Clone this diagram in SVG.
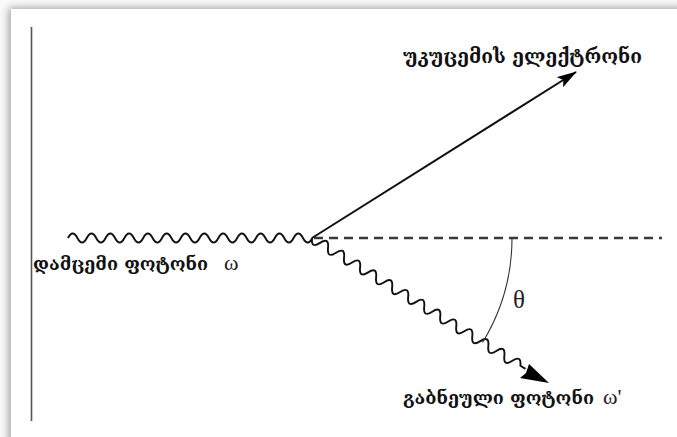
<svg xmlns="http://www.w3.org/2000/svg" width="677" height="437" viewBox="0 0 677 437">
  <defs>
    <filter id="sh" x="-10%" y="-10%" width="120%" height="120%">
      <feGaussianBlur stdDeviation="4"/>
    </filter>
    <marker id="ah" viewBox="0 0 20 12" refX="19" refY="6" markerWidth="20" markerHeight="12" markerUnits="userSpaceOnUse" orient="auto">
      <path d="M0,0 L20,6 L0,12 L4,6 Z" fill="#000"/>
    </marker>
  </defs>
  <style>
    .geo { font-family: "DejaVu Serif", "DejaVu Sans", serif; font-weight: bold; font-size: 18px; fill: #111; }
    .sym { font-family: "Liberation Serif", "DejaVu Serif", serif; font-weight: normal; font-size: 22px; fill: #222; }
    .wave { fill: none; stroke: #111; stroke-width: 1.9; stroke-linejoin: round; }
  </style>
  <rect x="0" y="0" width="677" height="437" fill="#fafafa"/>
  <rect x="9" y="8" width="690" height="460" fill="#9a9a9a" filter="url(#sh)"/>
  <rect x="11" y="9" width="690" height="460" fill="#ffffff"/>

  <g id="axis">
    <line x1="31.5" y1="27" x2="31.5" y2="421" stroke="#555" stroke-width="1.6"/>
  </g>

  <g id="connectors">
    <path id="incoming" class="wave" d="M68,238 q4.7,-9 9.4,0 t9.4,0 t9.4,0 t9.4,0 t9.4,0 t9.4,0 t9.4,0 t9.4,0 t9.4,0 t9.4,0 t9.4,0 t9.4,0 t9.4,0 t9.4,0 t9.4,0 t9.4,0 t9.4,0 t9.4,0 t9.4,0 t9.4,0 t9.4,0 t9.4,0 t9.4,0 t9.4,0 t9.4,0 t9.4,0"/>
    <line id="dashed" x1="314" y1="238" x2="662" y2="238" stroke="#3a3a3a" stroke-width="2.5" stroke-dasharray="9,6"/>
    <line id="electron" x1="312" y1="238" x2="576" y2="72" stroke="#111" stroke-width="2" marker-end="url(#ah)"/>
    <g id="scattered" transform="translate(312,238) rotate(31.5)">
      <path class="wave" d="M0,0 q4.7,10 9.4,0 t9.4,0 t9.4,0 t9.4,0 t9.4,0 t9.4,0 t9.4,0 t9.4,0 t9.4,0 t9.4,0 t9.4,0 t9.4,0 t9.4,0 t9.4,0 t9.4,0 t9.4,0 t9.4,0 t9.4,0 t9.4,0 t9.4,0 t9.4,0 t9.4,0 t9.4,0 t9.4,0 t9.4,0 t9.4,0 l6,0"/>
    </g>
    <path d="M549,383 L520,378 L526,373 L529,364 Z" fill="#000"/>
    <path id="angle" d="M512,238 A200,200 0 0 1 482.5,342.5" fill="none" stroke="#333" stroke-width="1.1"/>
  </g>

  <g id="label-electron">
    <text class="geo" x="403" y="63" style="font-size:19px" textLength="239" lengthAdjust="spacingAndGlyphs">უკუცემის ელექტრონი</text>
  </g>
  <g id="label-incoming">
    <text class="geo" x="33" y="270">დამცემი ფოტონი</text>
    <text class="sym" x="224" y="270">ω</text>
  </g>
  <g id="label-scattered">
    <text class="geo" x="403" y="404">გაბნეული ფოტონი</text>
    <text class="sym" x="603" y="404">ω'</text>
  </g>
  <g id="label-theta">
    <text class="sym" x="513" y="308" style="font-size:25px">θ</text>
  </g>
</svg>
